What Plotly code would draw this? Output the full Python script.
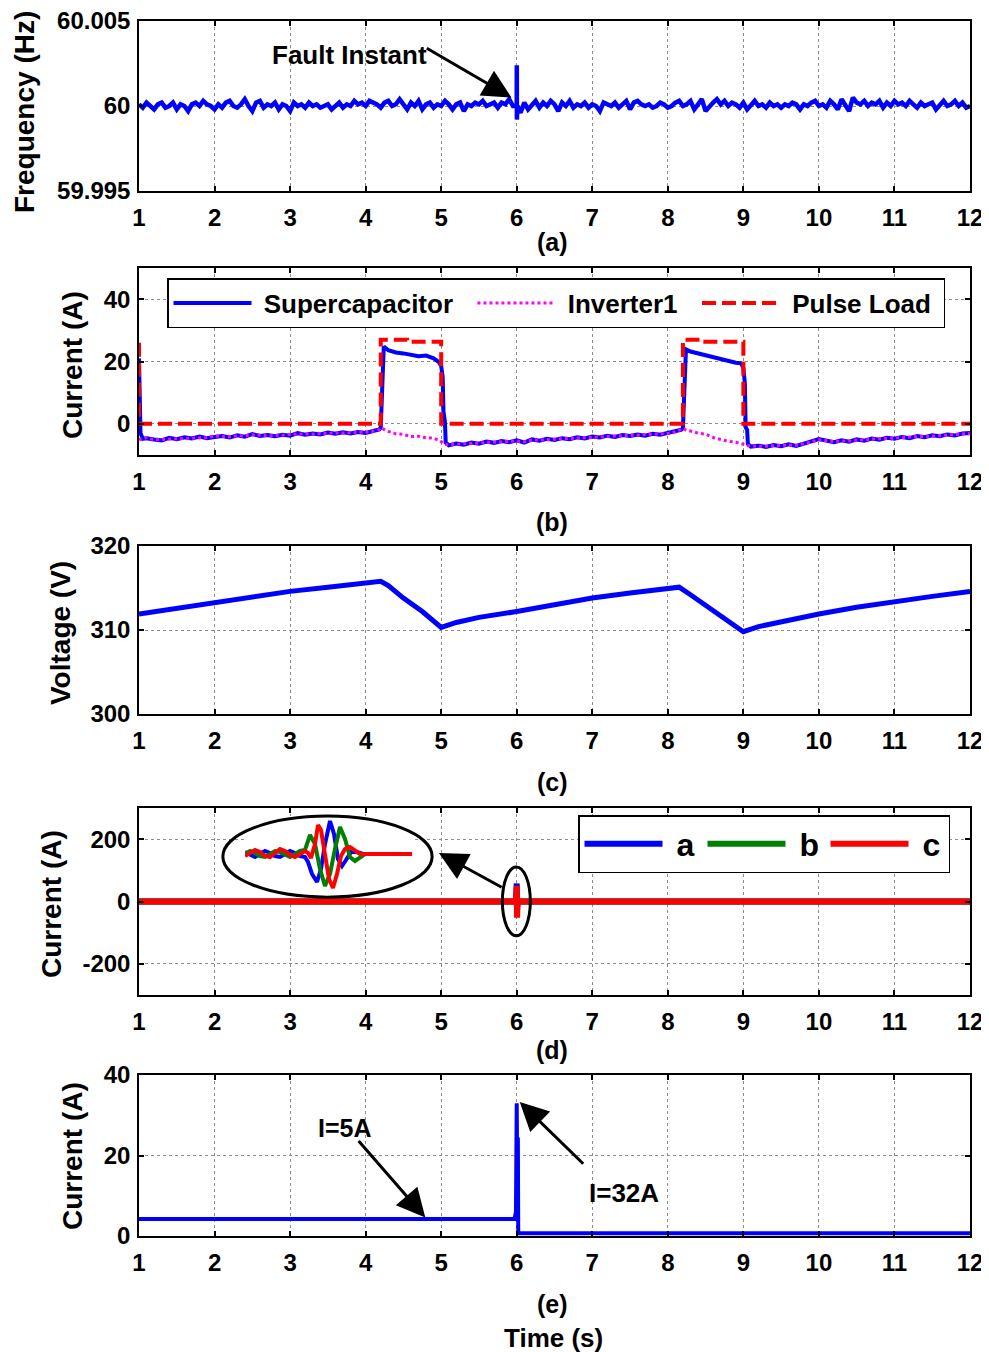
import numpy as np
import plotly.graph_objects as go

# ---------------- DATA ----------------
# (a) frequency deviation from 60 Hz in mHz, sampled every 0.05 s from t=1 to t=12
freq_t_grid = [round(1 + 0.05 * k, 2) for k in range(221)]
freq_dev_mhz = [
    0.1, -0.1, 0.2, 0.0, -0.2, 0.1, 0.2, -0.1, 0.0, 0.2, -0.2, 0.1, 0.0, -0.3, 0.1, 0.2, 0.0, 0.3, 0.1, 0.0,
    -0.2, 0.1, -0.1, 0.2, 0.3, 0.0, -0.1, 0.1, 0.4, 0.0, -0.3, 0.2, 0.3, -0.1, 0.1, 0.0, 0.2, -0.2, 0.1, 0.0,
    -0.3, 0.2, 0.0, 0.1, -0.1, 0.2, 0.0, 0.1, -0.1, 0.0, 0.1, -0.2, 0.0, 0.2, -0.1, 0.1, 0.0, 0.3, 0.1, 0.2,
    0.0, 0.3, 0.2, 0.1, -0.1, 0.2, 0.3, 0.0, 0.1, 0.4, 0.1, -0.2, 0.2, 0.0, 0.3, -0.2, 0.1, 0.2, -0.1, 0.1,
    0.0, 0.3, 0.1, -0.2, 0.1, 0.2, -0.3, 0.1, 0.0, 0.2, 0.1, 0.3, 0.0, 0.1, 0.2, -0.1, 0.2, 0.1, 0.4, 0.0,
    0.0, -0.4, 0.2, -0.2, 0.1, 0.3, -0.1, 0.2, 0.0, 0.3, 0.1, -0.3, 0.2, 0.0, 0.3, -0.1, 0.1, 0.0, 0.2, -0.1,
    0.1, 0.0, -0.3, 0.2, 0.1, 0.0, 0.2, -0.1, 0.1, 0.3, -0.2, 0.2, 0.3, 0.1, 0.0, 0.1, -0.1, 0.0, 0.2, 0.1,
    -0.1, 0.0, 0.2, 0.3, 0.0, 0.1, 0.3, -0.2, 0.1, 0.4, -0.3, 0.0, 0.2, 0.4, 0.1, 0.3, 0.0, 0.2, 0.1, -0.1,
    0.2, -0.2, 0.1, 0.3, 0.0, 0.1, -0.1, 0.2, 0.0, 0.1, -0.1, 0.1, 0.0, 0.2, 0.1, -0.2, 0.1, 0.0, 0.2, 0.3,
    0.0, 0.1, -0.1, 0.3, 0.1, -0.2, 0.4, 0.1, -0.3, 0.5, 0.2, 0.1, 0.3, 0.0, 0.2, 0.1, 0.3, -0.1, 0.2, 0.0,
    0.3, 0.1, 0.2, 0.0, 0.3, 0.1, -0.1, 0.2, 0.0, 0.1, 0.2, -0.2, 0.1, 0.3, 0.0, 0.1, 0.3, 0.0, 0.2, -0.1,
    0.0,
]
spike_t = [6.001, 6.002, 6.004, 6.006, 6.01]
spike_dev_mhz = [2.4, -0.8, 1.0, -0.4, 0.0]

# (b) currents
t_b = [1.0, 1.01, 1.02, 1.05,
       1.1, 1.2, 1.3, 1.4, 1.5, 1.6, 1.7, 1.8, 1.9, 2.0, 2.1, 2.2, 2.3, 2.4, 2.5, 2.6, 2.7, 2.8, 2.9, 3.0,
       3.1, 3.2, 3.3, 3.4, 3.5, 3.6, 3.7, 3.8, 3.9, 4.0, 4.1,
       4.18, 4.2, 4.22, 4.24,
       4.3, 4.4, 4.5, 4.6, 4.7, 4.8, 4.9,
       4.97, 5.0, 5.02, 5.03, 5.05, 5.06,
       5.1, 5.2, 5.3, 5.4, 5.5, 5.6, 5.7, 5.8, 5.9, 6.0, 6.1, 6.2, 6.3, 6.4, 6.5, 6.6, 6.7, 6.8, 6.9, 7.0,
       7.1, 7.2, 7.3, 7.4, 7.5, 7.6, 7.7, 7.8, 7.9, 8.0, 8.1,
       8.18, 8.2, 8.22, 8.24,
       8.3, 8.4, 8.5, 8.6, 8.7, 8.8, 8.9,
       8.97, 9.0, 9.02, 9.03, 9.05, 9.06,
       9.1, 9.2, 9.3, 9.4, 9.5, 9.6, 9.7, 9.8, 9.9, 10.0, 10.1, 10.2, 10.3, 10.4, 10.5, 10.6, 10.7, 10.8,
       10.9, 11.0, 11.1, 11.2, 11.3, 11.4, 11.5, 11.6, 11.7, 11.8, 11.9, 12.0]
supercap_i = [21, 6, -3, -4.8,
              -4.6, -5.0, -5.3, -4.5, -4.9, -4.3, -4.7, -4.1, -4.6, -4.2, -3.9, -4.4, -3.7, -4.1, -3.3, -3.9,
              -3.6, -4.0, -3.5, -3.8, -3.0, -3.5, -3.1, -3.4, -2.8, -3.2, -2.7, -3.1, -2.6, -2.9, -2.3,
              -1.8, -1.2, 13, 24.8,
              23.6, 22.9, 22.6, 22.3, 21.7, 21.9, 21.0,
              19.8, 18.6, 15, 4, 0.5, -6,
              -6.9, -6.3, -6.7, -6.0, -6.4, -5.7, -6.1, -5.5, -5.9, -5.3, -6.0, -5.0, -5.4, -4.8, -5.2, -4.6,
              -4.9, -4.3, -4.7, -4.1, -4.4, -3.8, -4.2, -3.6, -3.9, -3.4, -3.8, -3.2, -3.5, -2.9, -2.5,
              -1.9, -1.3, 14, 23.9,
              23.2, 22.6, 22.0, 21.3, 20.6, 20.2, 19.6,
              19.4, 18.0, 13, -1, -2, -6.5,
              -7.3, -7.0, -7.4, -6.8, -7.2, -6.6, -7.1, -6.2, -5.6, -4.9, -5.5, -5.9, -5.3, -5.7, -5.0, -5.4,
              -4.7, -5.1, -4.5, -4.8, -4.2, -4.6, -3.9, -4.3, -3.7, -4.0, -3.4, -3.7, -3.1, -2.9]
inverter1_i = [-5.2, -5.0, -4.9, -4.9,
               -4.4, -5.1, -5.0, -4.7, -4.6, -4.5, -4.4, -4.3, -4.4, -3.9, -4.1, -4.2, -3.8, -3.9, -3.5, -3.7,
               -3.8, -3.8, -3.6, -3.6, -3.2, -3.3, -3.3, -3.2, -3.0, -3.0, -2.9, -2.9, -2.7, -2.7, -2.4,
               -1.8, -1.3, -1.5, -1.9,
               -2.4, -3.2, -3.4, -4.1, -4.0, -4.5, -4.6,
               -5.3, -5.8, -6.1, -6.3, -6.5, -6.6,
               -6.7, -6.5, -6.5, -6.2, -6.2, -5.9, -5.9, -5.7, -5.7, -5.5, -5.8, -5.2, -5.2, -5.0, -5.0, -4.8,
               -4.7, -4.5, -4.5, -4.3, -4.2, -4.0, -4.0, -3.8, -3.7, -3.6, -3.6, -3.4, -3.3, -3.1, -2.6,
               -1.7, -1.5, -1.6, -2.0,
               -2.3, -3.0, -3.3, -4.4, -5.0, -5.6, -5.9,
               -6.3, -6.4, -6.6, -6.7, -6.9, -7.0,
               -7.1, -7.2, -7.2, -7.0, -7.0, -6.8, -6.9, -6.4, -5.8, -5.1, -5.3, -5.7, -5.5, -5.5, -5.2, -5.2,
               -4.9, -4.9, -4.7, -4.6, -4.4, -4.4, -4.1, -4.1, -3.9, -3.8, -3.6, -3.5, -3.3, -3.1]
pulse_t = [1.0, 1.0, 4.2, 4.2, 4.55, 4.55, 5.0, 5.0, 8.2, 8.2, 8.45, 8.45, 9.0, 9.0, 12.0]
pulse_i = [26, 0, 0, 27, 27, 26.3, 26.3, 0, 0, 27, 27, 26.3, 26.3, 0, 0]

# (c) supercapacitor voltage
t_c = [1.0, 1.5, 2.0, 2.5, 3.0, 3.5, 4.0, 4.2, 4.3, 4.5, 4.75, 5.0, 5.2, 5.5, 6.0, 6.5, 7.0, 7.5,
       8.0, 8.15, 8.3, 8.6, 9.0, 9.2, 9.5, 10.0, 10.5, 11.0, 11.5, 12.0]
voltage_v = [311.9, 312.6, 313.3, 313.9, 314.6, 315.1, 315.6, 315.8, 315.3, 313.8, 312.2, 310.3, 310.9,
             311.5, 312.2, 313.0, 313.8, 314.4, 314.9, 315.1, 314.2, 312.3, 309.8, 310.4, 311.0, 311.9,
             312.7, 313.4, 314.0, 314.6]

# (d) three-phase currents
t_d = [1.0, 5.99, 6.0, 6.004, 6.008, 6.012, 12.0]
phase_a = [0, 0, 58, -30, 10, 0, 0]
phase_b = [0, 0, 14, 8, -10, 0, 0]
phase_c = [0, 0, 50, -52, 5, 0, 0]
# zoomed inset (relative time / relative current)
inset_a_x = [0, 5, 10, 15, 20, 25, 30, 35, 40, 45, 50, 55, 60, 63, 67, 72, 76, 80, 85, 89, 93, 97, 101, 106, 112, 118, 130]
inset_a_y = [2, -1, -3, 0, 3, 1, -2, -3, 0, 3, 1, -2, -3, -8, -20, -28, -15, 10, 33, 20, -5, -12, -6, 2, 2, 0, 0]
inset_b_x = [0, 5, 10, 15, 20, 25, 30, 35, 40, 45, 50, 55, 60, 65, 70, 75, 80, 85, 90, 95, 100, 105, 110, 115, 120, 130]
inset_b_y = [0, 3, 1, -2, -3, 0, 3, 2, -1, -3, 0, 3, 4, 19, 10, -15, -32, -20, 5, 27, 15, -3, -7, -3, 0, 0]
inset_c_x = [0, 5, 10, 15, 20, 25, 30, 35, 40, 45, 50, 55, 60, 63, 66, 70, 73, 76, 80, 84, 88, 92, 96, 100, 105, 110, 115, 120, 167]
inset_c_y = [-2, 1, 4, 2, -2, -3, 1, 5, 3, -1, -3, 0, 3, 1, -4, 10, 29, 24, 0, -25, -34, -20, -2, 5, 7, 3, 0, 0, 0]

# (e) current
t_e = [1.0, 5.97, 5.99, 6.0, 6.003, 6.01, 6.015, 6.02, 12.0]
current_e = [4.2, 4.2, 6.0, 33.0, 24.0, 24.0, 24.0, 0.7, 0.7]

x_ticks = list(range(1, 13))

# ---------------- LAYOUT HELPERS (screen pixel -> paper) ----------------
OFF = 8                       # page body margin
W, H = 989 - OFF, 1352 - OFF
L, R, T, B = 139, 970, 21, 1236   # plot area on screen


def pxx(p):
    return (p - L) / (R - L)


def pyy(p):
    return (B - p) / (B - T)


FONT = "Liberation Sans, Arial, sans-serif"
NB = "\u00a0"

fig = go.Figure()

freq_t = freq_t_grid + spike_t
freq_v = [60 + d / 1000 for d in freq_dev_mhz] + [60 + d / 1000 for d in spike_dev_mhz]
order = np.argsort(freq_t, kind="stable")
fig.add_trace(go.Scatter(x=[freq_t[i] for i in order], y=[freq_v[i] for i in order],
                         mode="lines", line=dict(color="#0000ff", width=4.5),
                         showlegend=False, xaxis="x", yaxis="y"))

fig.add_trace(go.Scatter(x=t_b, y=supercap_i, name=NB + "Supercapacitor" + NB + NB, mode="lines",
                         line=dict(color="#0000ff", width=4), xaxis="x2", yaxis="y2", legend="legend"))
fig.add_trace(go.Scatter(x=t_b, y=inverter1_i, name=NB + "Inverter1" + NB + NB, mode="lines",
                         line=dict(color="#ff00ff", width=3, dash="3px,3px"), xaxis="x2", yaxis="y2",
                         legend="legend"))
fig.add_trace(go.Scatter(x=pulse_t, y=pulse_i, name=NB + "Pulse Load" + NB, mode="lines",
                         line=dict(color="#ff0000", width=4, dash="14px,6px"), xaxis="x2", yaxis="y2",
                         legend="legend"))

fig.add_trace(go.Scatter(x=t_c, y=voltage_v, mode="lines", line=dict(color="#0000ff", width=5),
                         showlegend=False, xaxis="x3", yaxis="y3"))

for nm, yy, col in [("a", phase_a, "#0000ff"), ("b", phase_b, "#008000"), ("c", phase_c, "#ff0000")]:
    fig.add_trace(go.Scatter(x=t_d, y=yy, name=NB + nm, mode="lines", line=dict(color=col, width=6),
                             xaxis="x4", yaxis="y4", legend="legend2"))

for xx, yy, col in [(inset_a_x, inset_a_y, "#0000ff"), (inset_b_x, inset_b_y, "#008000"),
                    (inset_c_x, inset_c_y, "#ff0000")]:
    fig.add_trace(go.Scatter(x=xx, y=yy, mode="lines", line=dict(color=col, width=4),
                             showlegend=False, xaxis="x6", yaxis="y6"))

fig.add_trace(go.Scatter(x=t_e, y=current_e, mode="lines", line=dict(color="#0000ff", width=4),
                         showlegend=False, xaxis="x5", yaxis="y5"))

# ---------------- AXES ----------------
panels = [
    # (ypix_top, ypix_bottom, yrange, tickvals, ticktext, title, title_x_pix, title_y_pix)
    (21, 191, [59.995, 60.005], [59.995, 60, 60.005], ["59.995", "60", "60.005"], "Frequency (Hz)", 25, 112),
    (268, 455, [-10, 50], [0, 20, 40], ["0", "20", "40"], "Current (A)", 72, 365),
    (546, 714, [300, 320], [300, 310, 320], ["300", "310", "320"], "Voltage (V)", 60, 633),
    (808, 995, [-300, 300], [-200, 0, 200], ["-200", "0", "200"], "Current (A)", 51, 904),
    (1075, 1236, [0, 40], [0, 20, 40], ["0", "20", "40"], "Current (A)", 72, 1156),
]

axis_common = dict(showline=True, linecolor="black", linewidth=1.5, mirror="ticks",
                   ticks="inside", ticklen=5, tickcolor="black", tickwidth=1.5,
                   showgrid=True, gridcolor="#8c8c8c", griddash="dot", gridwidth=1,
                   zeroline=False, ticklabeloverflow="allow")
tick_font = dict(family=FONT, size=24, color="black", weight="bold")

layout_axes = {}
ann = []
for k, (ytop, ybot, yr, tv, tt, ttl, tx, ty) in enumerate(panels):
    n = "" if k == 0 else str(k + 1)
    layout_axes["xaxis" + n] = dict(
        domain=[0, 1], anchor="y" + n, range=[1, 12], tickvals=x_ticks,
        ticktext=[str(v) for v in x_ticks], tickfont=tick_font,
        ticklabelstandoff=4, **axis_common)
    layout_axes["yaxis" + n] = dict(
        domain=[pyy(ybot), pyy(ytop)], anchor="x" + n, range=yr, tickvals=tv, ticktext=tt,
        tickfont=tick_font, ticklabelstandoff=2, **axis_common)
    ann.append(dict(text=ttl, x=pxx(tx), y=pyy(ty), xref="paper", yref="paper",
                    textangle=-90, showarrow=False, xanchor="center", yanchor="middle",
                    font=dict(family=FONT, size=28, color="black", weight="bold")))

layout_axes["xaxis6"] = dict(domain=[pxx(245), pxx(412)], anchor="y6", range=[0, 167], visible=False)
layout_axes["yaxis6"] = dict(domain=[pyy(896), pyy(816)], anchor="x6", range=[-42, 38], visible=False)

# ---------------- ANNOTATIONS ----------------
lab_font = dict(family=FONT, size=25, color="black", weight="bold")
for txt, yp in [("(a)", 242), ("(b)", 522), ("(c)", 782), ("(d)", 1050), ("(e)", 1304)]:
    ann.append(dict(text=txt, x=pxx(552), y=pyy(yp), xref="paper", yref="paper", showarrow=False,
                    xanchor="center", yanchor="middle", font=lab_font))
ann.append(dict(text="Time (s)", x=pxx(553), y=pyy(1338), xref="paper", yref="paper", showarrow=False,
                xanchor="center", yanchor="middle", font=dict(family=FONT, size=26, color="black", weight="bold")))

arrow_style = dict(showarrow=True, arrowhead=2, arrowsize=1.9, arrowwidth=3, arrowcolor="black", text="")
# (a) Fault instant
ann.append(dict(text="Fault Instant", x=3.78, y=60.0030, xref="x", yref="y", showarrow=False,
                font=dict(family=FONT, size=26, color="black", weight="bold")))
ann.append(dict(x=5.93, y=60.0005, ax=4.79, ay=60.00345, xref="x", yref="y", axref="x", ayref="y",
                **arrow_style))
# (d) arrow
ann.append(dict(x=4.97, y=156, ax=5.82, ay=43, xref="x4", yref="y4", axref="x4", ayref="y4",
                **arrow_style))
# (e)
ann.append(dict(text="I=5A", x=3.73, y=26.8, xref="x5", yref="y5", showarrow=False,
                font=dict(family=FONT, size=25, color="black", weight="bold")))
ann.append(dict(x=4.79, y=4.6, ax=3.89, ay=24.0, xref="x5", yref="y5", axref="x5", ayref="y5",
                **arrow_style))
ann.append(dict(text="I=32A", x=7.42, y=10.7, xref="x5", yref="y5", showarrow=False,
                font=dict(family=FONT, size=26, color="black", weight="bold")))
ann.append(dict(x=6.04, y=33.3, ax=6.90, ay=17.6, xref="x5", yref="y5", axref="x5", ayref="y5",
                **arrow_style))

shapes = [
    dict(type="circle", xref="x4", yref="y4", x0=2.11, x1=4.88, y0=14, y1=274,
         line=dict(color="black", width=3)),
    dict(type="circle", xref="x4", yref="y4", x0=5.81, x1=6.18, y0=-110, y1=111,
         line=dict(color="black", width=3)),
]

fig.update_layout(
    width=W, height=H,
    margin=dict(l=L - OFF, r=W - (R - OFF), t=T - OFF, b=H - (B - OFF), autoexpand=False),
    paper_bgcolor="white", plot_bgcolor="white",
    font=dict(family=FONT, color="black"),
    annotations=ann, shapes=shapes,
    legend=dict(x=pxx(167), y=pyy(278), xanchor="left", yanchor="top", orientation="h",
                bordercolor="black", borderwidth=1.5, bgcolor="white", itemwidth=78,
                font=dict(family=FONT, size=26, color="black", weight="bold")),
    legend2=dict(x=pxx(578), y=pyy(815), xanchor="left", yanchor="top", orientation="h",
                 bordercolor="black", borderwidth=1.5, bgcolor="white", itemwidth=78,
                 entrywidth=30, entrywidthmode="pixels",
                 font=dict(family=FONT, size=32, color="black", weight="bold")),
    **layout_axes,
)

fig.write_html("out.html")
